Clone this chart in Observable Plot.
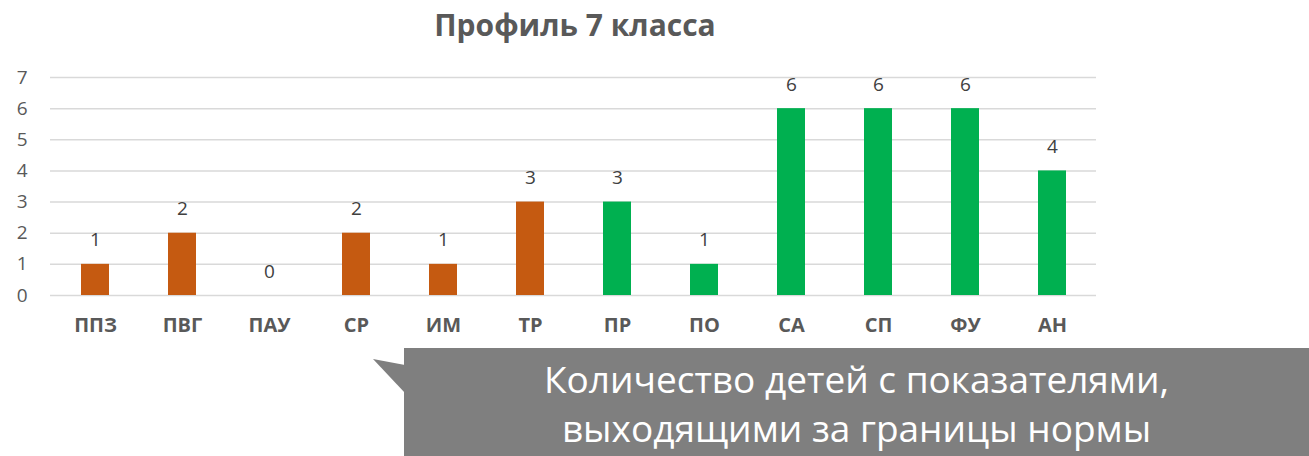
<!DOCTYPE html>
<html><head><meta charset="utf-8">
<script src="https://cdn.jsdelivr.net/npm/d3@7"></script>
<script src="https://cdn.jsdelivr.net/npm/@observablehq/plot@0.6"></script>
<style>
html,body{margin:0;padding:0;background:#fff;}
#wrap{position:relative;width:1309px;height:456px;overflow:hidden;font-family:"Open Sans",sans-serif;}
#title{position:absolute;left:0;width:1150px;top:3px;text-align:center;font-weight:bold;font-size:30px;line-height:44px;color:#595959;}
#chart{position:absolute;left:0;top:50px;}
#callout{position:absolute;left:404px;top:348px;width:905px;height:108px;background:#7f7f7f;color:#fff;font-size:37px;text-align:center;line-height:49px;padding-top:6px;box-sizing:border-box;white-space:nowrap;}
#pointer{position:absolute;left:373px;top:359px;}
</style></head>
<body><div id="wrap">
<div id="title">Профиль 7 класса</div>
<div id="chart"></div>
<svg id="pointer" width="32" height="36"><polygon points="0,0 32,6 32,34" fill="#7f7f7f"/></svg>
<div id="callout">Количество детей с показателями,<br>выходящими за границы нормы</div>
</div>
<script>
const categories = ["ППЗ","ПВГ","ПАУ","СР","ИМ","ТР","ПР","ПО","СА","СП","ФУ","АН"];
const values = [1,2,0,2,1,3,3,1,6,6,6,4];
const groups = ["a","a","a","a","a","a","b","b","b","b","b","b"];
const yTicks = [0,1,2,3,4,5,6,7];
const data = categories.map((c,i)=>({cat:c, value:values[i], group:groups[i]}));

const chart = Plot.plot({
  width: 1309,
  height: 406,
  marginTop: 27,
  marginBottom: 161,
  marginLeft: 50,
  marginRight: 213,
  style: {fontFamily: "'Open Sans', sans-serif", background: "transparent"},
  x: {domain: categories, paddingInner: 0.68, paddingOuter: 0.34, label: null},
  y: {domain: [0,7], label: null},
  color: {domain: ["a","b"], range: ["#C55A11","#00B050"]},
  marks: [
    Plot.gridY(yTicks, {stroke: "#d9d9d9", strokeOpacity: 1, strokeWidth: 1.5}),
    Plot.axisY(yTicks, {tickSize: 0, tickPadding: 23, fontSize: 19, fill: "#595959", label: null}),
    Plot.axisX({tickSize: 0, tickPadding: 22, fontSize: 20, fontWeight: "bold", fill: "#595959", label: null}),
    Plot.barY(data, {x: "cat", y: "value", fill: "group"}),
    Plot.text(data, {x: "cat", y: "value", text: d => String(d.value), dy: -24, fontSize: 19, fill: "#404040"})
  ]
});
document.getElementById("chart").appendChild(chart);
</script>
</body></html>
